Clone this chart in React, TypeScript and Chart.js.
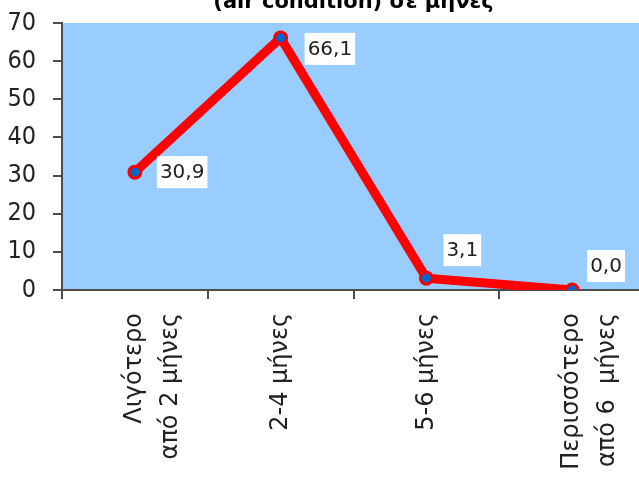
import React, { useEffect, useRef } from "react";
import { Chart, registerables } from "chart.js";

Chart.register(...registerables);

// Waiting time categories and share of answers (%)
const categories: (string | string[])[] = [
  ["Λιγότερο", "από 2 μήνες"],
  "2-4 μήνες",
  "5-6 μήνες",
  ["Περισσότερο", "από 6  μήνες"],
];
const values = [30.9, 66.1, 3.1, 0.0];

const yMin = 0;
const yMax = 70;
const yStep = 10;

const titleText = "(air condition) σε μήνες";

// Where each value label sits relative to its point: [dx to box left, dy of box centre]
const labelPlacement = [
  [22, 0],
  [24, 11],
  [17, -28],
  [15, -24],
];

const AXIS_COLOR = "#4d4d4d";
const TEXT_COLOR = "#222222";
const PLOT_BG = "#99ccff";

const CANVAS_W = 654;
const CANVAS_H = 500;
const CANVAS_TOP = -20;

const plotBackground = {
  id: "plotBackground",
  beforeDraw(chart: any) {
    const { ctx, chartArea } = chart;
    ctx.save();
    ctx.fillStyle = PLOT_BG;
    ctx.fillRect(chartArea.left, chartArea.top, chartArea.right - chartArea.left, chartArea.bottom - chartArea.top);
    ctx.restore();
  },
};

const valueLabels = {
  id: "valueLabels",
  afterDatasetsDraw(chart: any) {
    const { ctx } = chart;
    const meta = chart.getDatasetMeta(0);
    ctx.save();
    ctx.font = "20px 'DejaVu Sans', sans-serif";
    ctx.textBaseline = "middle";
    ctx.textAlign = "left";
    meta.data.forEach((pt: any, i: number) => {
      const text = values[i].toFixed(1).replace(".", ",");
      const [dx, dy] = labelPlacement[i];
      const w = ctx.measureText(text).width + 6;
      const h = 32;
      const x = pt.x + dx;
      const cy = pt.y + dy;
      ctx.fillStyle = "#ffffff";
      ctx.fillRect(x, cy - h / 2, w, h);
      ctx.fillStyle = TEXT_COLOR;
      ctx.fillText(text, x + 3, cy + 1);
    });
    ctx.restore();
  },
};

export default function App() {
  const canvasRef = useRef<HTMLCanvasElement | null>(null);

  useEffect(() => {
    if (!canvasRef.current) return;
    const chart = new Chart(canvasRef.current, {
      type: "line",
      data: {
        labels: categories,
        datasets: [
          {
            data: values,
            borderColor: "#ff0000",
            borderWidth: 9,
            borderJoinStyle: "round",
            borderCapStyle: "round",
            pointRadius: 6,
            pointHoverRadius: 6,
            pointBorderWidth: 3,
            pointBackgroundColor: "#0066cc",
            pointBorderColor: "#ff0000",
            tension: 0,
          },
        ],
      },
      options: {
        responsive: false,
        animation: false,
        devicePixelRatio: 1,
        layout: { padding: { left: 0, right: 0, top: 0, bottom: 0 } },
        plugins: {
          legend: { display: false },
          tooltip: { enabled: false },
          title: {
            display: true,
            fullSize: false,
            text: titleText,
            color: "#000000",
            font: { family: "'DejaVu Sans', sans-serif", size: 21, weight: "bold", lineHeight: 1.2 },
            padding: { top: 10, bottom: 7.8 },
          },
        },
        scales: {
          x: {
            offset: true,
            grid: {
              offset: true,
              drawOnChartArea: false,
              tickLength: 9,
              color: AXIS_COLOR,
              lineWidth: 2,
            },
            border: { display: true, color: AXIS_COLOR, width: 2 },
            ticks: {
              maxRotation: 90,
              minRotation: 90,
              padding: 14,
              color: TEXT_COLOR,
              font: { family: "'DejaVu Sans', sans-serif", size: 24, lineHeight: 1.5 },
            },
            afterFit(scale: any) {
              scale.height = CANVAS_H - (290 - CANVAS_TOP);
              scale.paddingLeft = 0;
              scale.paddingRight = 0;
            },
          },
          y: {
            min: yMin,
            max: yMax,
            grid: {
              drawOnChartArea: false,
              tickLength: 9,
              color: AXIS_COLOR,
              lineWidth: 2,
            },
            border: { display: true, color: AXIS_COLOR, width: 2 },
            ticks: {
              stepSize: yStep,
              padding: 17,
              color: TEXT_COLOR,
              font: { family: "'DejaVu Sans Condensed', 'DejaVu Sans', sans-serif", size: 25 },
            },
            afterFit(scale: any) {
              scale.width = 62;
            },
          },
        },
      },
      plugins: [plotBackground, valueLabels],
    });
    return () => chart.destroy();
  }, []);

  return (
    <div
      style={{
        position: "fixed",
        left: 0,
        top: 0,
        width: 639,
        height: 480,
        overflow: "hidden",
        background: "#ffffff",
      }}
    >
      <canvas
        ref={canvasRef}
        width={CANVAS_W}
        height={CANVAS_H}
        style={{ position: "absolute", left: 0, top: CANVAS_TOP, width: CANVAS_W, height: CANVAS_H }}
      />
    </div>
  );
}
